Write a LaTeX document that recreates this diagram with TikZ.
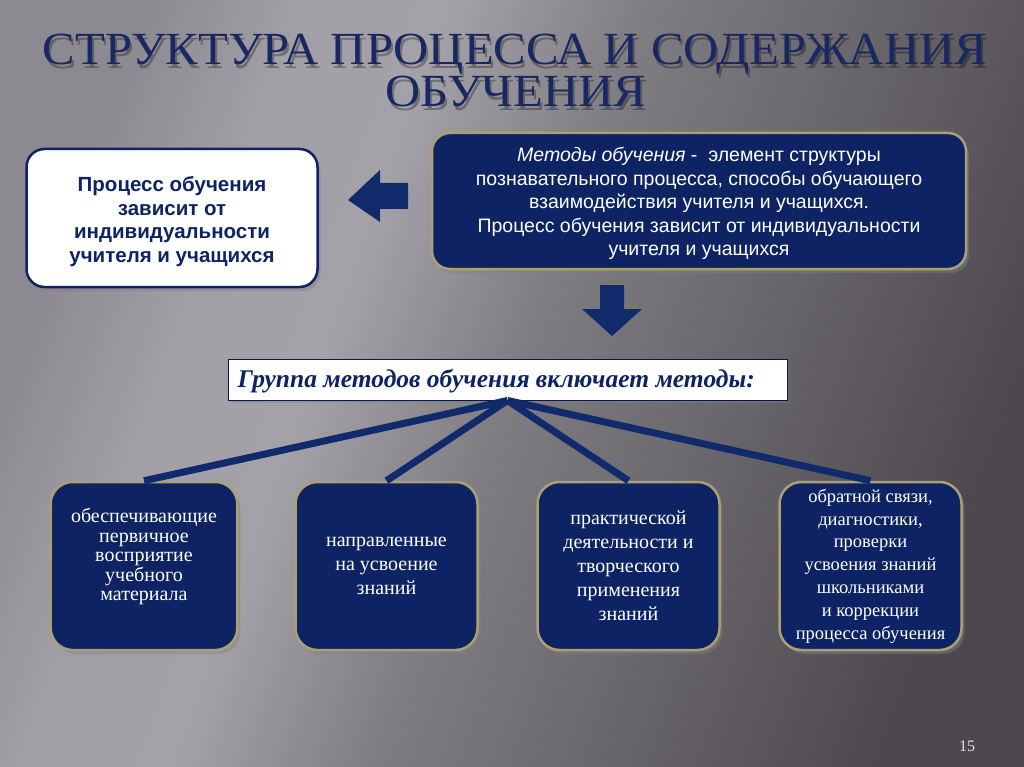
\documentclass[tikz,border=0pt]{standalone}
\usepackage{fontspec}
\setmainfont{Liberation Serif}
\newfontfamily\arial{Liberation Sans}
\usetikzlibrary{shadows}
\definecolor{navy}{RGB}{13,35,100}
\definecolor{arrnavy}{RGB}{16,42,108}
\definecolor{gold}{RGB}{172,160,115}
\definecolor{titleblue}{RGB}{24,40,98}
\definecolor{bgA}{RGB}{140,138,144}
\definecolor{bgB}{RGB}{162,160,166}
\definecolor{bgC}{RGB}{164,162,168}
\definecolor{bgD}{RGB}{127,124,130}
\definecolor{bgE}{RGB}{108,105,110}
\definecolor{bgF}{RGB}{76,72,77}
\pgfdeclarehorizontalshading{bgsh}{100bp}{color(0bp)=(bgA); color(25bp)=(bgA); color(33bp)=(bgB); color(40bp)=(bgC); color(50bp)=(bgD); color(60bp)=(bgE); color(75bp)=(bgF); color(100bp)=(bgF)}
\tikzset{
  whitebox/.style={draw=navy, line width=2.5pt, fill=white, rounded corners=18pt,
    minimum width=291pt, minimum height=138pt, align=center, text=navy,
    font=\arial\bfseries\fontsize{20.5}{23.7}\selectfont,
    drop shadow={opacity=0.45, shadow xshift=3pt, shadow yshift=-4pt}},
  navybox/.style={draw=gold, line width=2.5pt, fill=navy, rounded corners=18pt,
    align=center, text=white,
    drop shadow={opacity=0.45, shadow xshift=3pt, shadow yshift=-4pt}},
  methodbox/.style={navybox, rounded corners=22pt, minimum width=182pt, minimum height=168pt,
    font=\fontsize{20}{24}\selectfont},
  groupbox/.style={draw=navy!70!black, line width=1pt, fill=white, minimum width=559pt,
    minimum height=41pt,
    drop shadow={opacity=0.35, shadow xshift=2pt, shadow yshift=-3pt}},
  branch/.style={draw=arrnavy, line width=7pt},
  blockarrow/.style={fill=arrnavy},
  titletext/.style={font=\fontsize{46}{46}\selectfont, anchor=base, inner sep=0pt, xscale=1.06},
  tshade/.style={titletext, text=black, opacity=0.3},
}
\begin{document}
\begin{tikzpicture}[x=1pt,y=-1pt]
\useasboundingbox (0,0) rectangle (1024,767);
\shade[shading=bgsh, shading angle=-20] (0,0) rectangle (1024,767);

% title shadow
\node[tshade] (title1s) at (517,69) {СТРУКТУРА ПРОЦЕССА И СОДЕРЖАНИЯ};
\node[tshade] (title2s) at (518,111) {ОБУЧЕНИЯ};
% title
\node[titletext, text=titleblue] (title1) at (515,65) {СТРУКТУРА ПРОЦЕССА И СОДЕРЖАНИЯ};
\node[titletext, text=titleblue] (title2) at (516,107) {ОБУЧЕНИЯ};

% left white box
\node[whitebox] (dep) at (172,218) {\raisebox{0pt}[\dimexpr\height+7pt\relax][\depth]{\parbox{280pt}{\centering Процесс обучения\\зависит от\\индивидуальности\\учителя и учащихся}}};

% methods box
\node[navybox, minimum width=534pt, minimum height=136pt,
  font=\arial\fontsize{19.5}{23.6}\selectfont] (meth) at (699,201)
  {\raisebox{0pt}[\dimexpr\height+5pt\relax][\depth]{\parbox{520pt}{\centering\textit{Методы обучения} -\ \ элемент структуры\\познавательного процесса, способы обучающего\\взаимодействия учителя и учащихся.\\Процесс обучения зависит от индивидуальности\\учителя и учащихся}}};

% left arrow
\coordinate (larr) at (378,200);
\fill[blockarrow] (larr) ++(-30,0) -- ++(32,-30) -- ++(0,13) -- ++(28,0) -- ++(0,26) -- ++(-28,0) -- ++(0,13) -- cycle;

% down arrow
\coordinate (darr) at (612,310);
\fill[blockarrow] (darr) ++(-12,-25) -- ++(24,0) -- ++(0,24) -- ++(18,0) -- ++(-30,27) -- ++(-30,-27) -- ++(18,0) -- cycle;

% group box
\node[groupbox] (grp) at (507.5,379.5) {};
\node[anchor=west, text=navy, font=\bfseries\itshape\fontsize{25.5}{28}\selectfont] (grptext) at (234,381) {Группа методов обучения включает методы:};

% method boxes
\node[methodbox] (m1) at (144,566) {\raisebox{0pt}[\height][\dimexpr\depth+19pt\relax]{\parbox{180pt}{\centering\fontsize{20}{19.5}\selectfont обеспечивающие\\первичное\\восприятие\\учебного\\материала}}};
\node[methodbox] (m2) at (386.5,566) {направленные\\на усвоение\\знаний};
\node[methodbox] (m3) at (628.5,566) {практической\\деятельности и\\творческого\\применения\\знаний};
\node[methodbox, font=\fontsize{18.5}{22.8}\selectfont] (m4) at (870.5,566) {обратной связи,\\диагностики,\\проверки\\усвоения знаний\\школьниками\\и коррекции\\процесса обучения};

% branches
\foreach \m in {m1,m2,m3,m4} \draw[branch] (grp.south) -- (\m.north);

% page number
\node[text=white!80!gray, font=\fontsize{16}{18}\selectfont] (pg) at (967,746) {15};
\end{tikzpicture}
\end{document}
